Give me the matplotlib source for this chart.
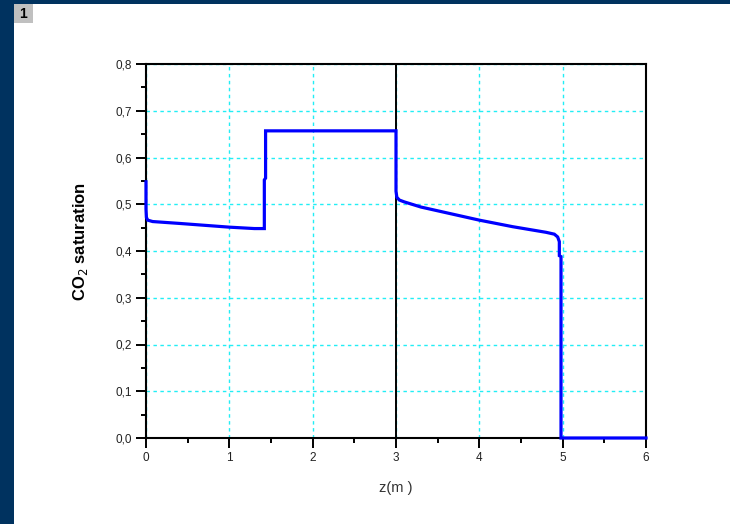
import matplotlib
matplotlib.use("Agg")
import matplotlib.pyplot as plt
from matplotlib.ticker import MultipleLocator, FuncFormatter
from matplotlib.patches import Rectangle

plt.rcParams["font.family"] = ["Liberation Sans", "DejaVu Sans"]

# CO2 saturation profile along the column
z_m = [0.0, 0.0, 0.005, 0.02, 0.08, 0.4, 0.7, 1.0, 1.3, 1.41,
       1.42, 1.42, 1.435, 1.435, 3.0, 3.0, 3.01, 3.04, 3.1, 3.3,
       3.6, 4.0, 4.4, 4.8, 4.9, 4.94, 4.96, 4.96, 4.98, 4.98, 6.0]
saturation = [0.548, 0.49, 0.472, 0.466, 0.463, 0.459, 0.455, 0.451, 0.448, 0.448,
              0.448, 0.552, 0.556, 0.657, 0.657, 0.528, 0.515, 0.509, 0.505, 0.494,
              0.482, 0.466, 0.452, 0.44, 0.436, 0.43, 0.42, 0.39, 0.388, 0.0, 0.0]

# interface position
interface_z = 3.0

x_ticks = [0, 1, 2, 3, 4, 5, 6]
y_ticks = [0.0, 0.1, 0.2, 0.3, 0.4, 0.5, 0.6, 0.7, 0.8]

W, H = 730, 524
fig = plt.figure(figsize=(W / 100, H / 100), dpi=100)
fig.patch.set_facecolor("white")

# window frame decorations
navy = "#00325f"
fig.add_artist(Rectangle((0, 1 - 4 / H), 1, 4 / H, transform=fig.transFigure,
                         color=navy, lw=0))
fig.add_artist(Rectangle((0, 0), 14 / W, 1, transform=fig.transFigure,
                         color=navy, lw=0))
fig.add_artist(Rectangle((14 / W, 1 - 23 / H), 19 / W, 19 / H,
                         transform=fig.transFigure, color="#c0c0c0", lw=0))
fig.text(23.5 / W, 1 - 13.5 / H, "1", ha="center", va="center",
         fontsize=10, fontweight="bold", color="black")

ax = fig.add_axes([146 / W, 1 - 438 / H, 500 / W, 374 / H])
ax.set_xlim(0, 6)
ax.set_ylim(0, 0.8)

ax.grid(True, which="major", color="#22eef5", linestyle=(0, (2.5, 2.5)), lw=1.0)
ax.set_axisbelow(True)

ax.axvline(interface_z, color="black", lw=1.4, zorder=2)
ax.plot(z_m, saturation, color="#0000ff", lw=2.3, solid_joinstyle="miter",
        zorder=3, clip_on=False)

ax.set_xticks(x_ticks)
ax.set_yticks(y_ticks)
ax.xaxis.set_minor_locator(MultipleLocator(0.5))
ax.yaxis.set_minor_locator(MultipleLocator(0.05))
ax.xaxis.set_major_formatter(FuncFormatter(lambda v, p: f"{v:g}"))
ax.yaxis.set_major_formatter(FuncFormatter(lambda v, p: f"{v:.1f}".replace(".", ",")))

ax.tick_params(which="major", direction="out", length=7, width=1.4,
               labelsize=8.5, labelcolor="#222222", pad=3)
ax.tick_params(which="minor", direction="out", length=3.5, width=1.4)
ax.tick_params(top=False, right=False, which="both")

for side in ["left", "bottom", "top", "right"]:
    ax.spines[side].set_linewidth(1.5)
    ax.spines[side].set_color("black")

ax.set_xlabel("z(m )", fontsize=10.5, color="#333333", labelpad=12)
ax.set_ylabel("CO$_2$ saturation", fontsize=12, fontweight="bold",
              color="black")
ax.yaxis.set_label_coords(-0.112, 0.525)

fig.savefig("out.png", dpi=100, facecolor="white")
